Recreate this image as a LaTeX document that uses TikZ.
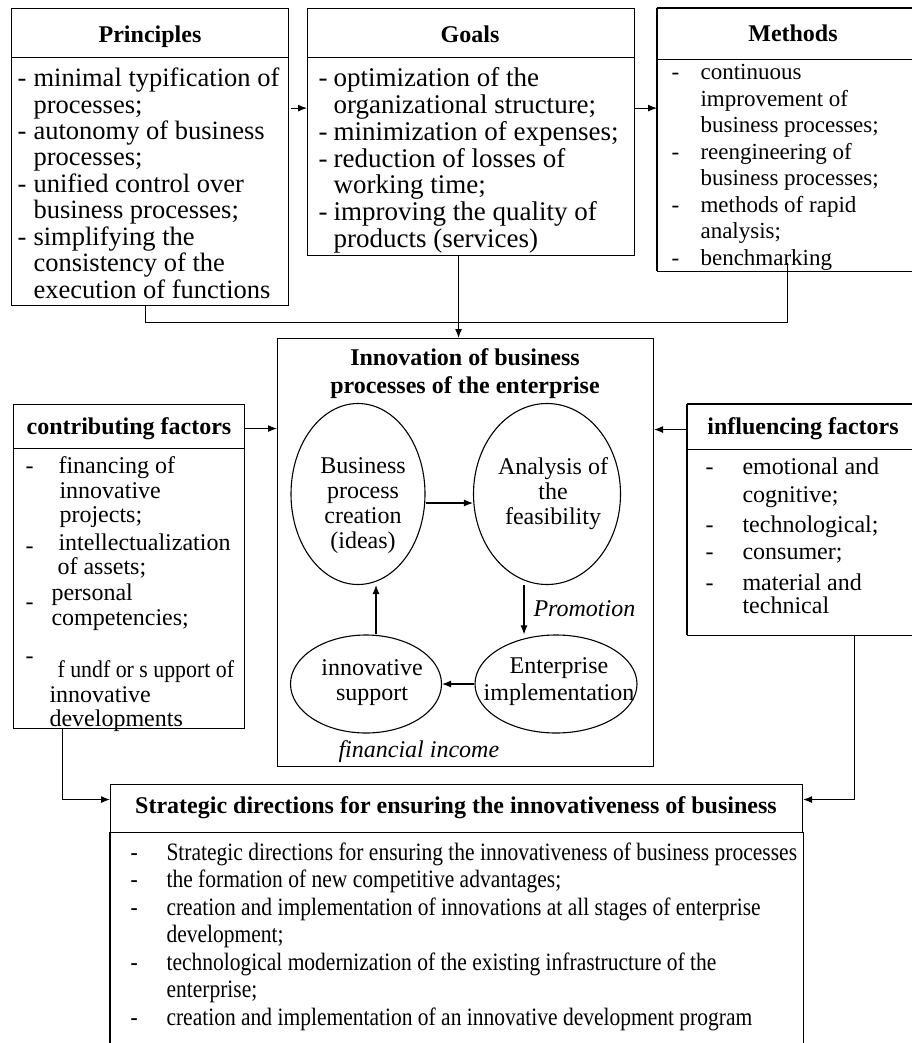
\documentclass[tikz,border=0pt]{standalone}
\usepackage{fontspec}
\setmainfont{Liberation Serif}
\newfontfamily\condfont{Liberation Serif}[FakeStretch=0.86]
\newfontfamily\semicond{Liberation Serif}[FakeStretch=0.91]
\usetikzlibrary{arrows.meta,shapes.geometric}
\newcommand\fsP{\fontsize{26.5}{26.2}\selectfont}
\newcommand\fsG{\fontsize{27}{26.1}\selectfont}
\newcommand\fsM{\fontsize{23}{26.5}\selectfont}
\newcommand\fsC{\fontsize{24}{23}\selectfont}
\newcommand\fsI{\fontsize{24}{20}\selectfont}
\newcommand\fsH{\fontsize{24}{26}\selectfont\bfseries}
\newcommand\fsT{\fontsize{24}{28}\selectfont\bfseries}
\newcommand\fsE{\fontsize{24}{25}\selectfont}
\newcommand\fsS{\condfont\fontsize{25}{27.5}\selectfont}
\newcommand\rdash[1]{\raisebox{#1}[0pt][0pt]{-}}
\begin{document}
\begin{tikzpicture}[x=1pt,y=-1pt,line width=1.1pt,
  frame/.style={draw,inner sep=0pt,anchor=north west},
  area/.style={inner sep=0pt,anchor=north west},
  lst/.style={inner sep=0pt,anchor=base west},
  ttl/.style={inner sep=0pt,anchor=base,font=\fsH},
  ctext/.style={inner sep=0pt,anchor=base,font=\fsE},
  oval/.style={draw,ellipse,inner sep=0pt},
  arr/.style={-{Latex[length=9pt,width=7pt]}}]
\fill[white] (0,0) rectangle (911,1043);
\useasboundingbox (0,0) rectangle (911,1043);

% ---------- Principles ----------
\node[frame,minimum width=277pt,minimum height=49pt] (ph) at (11,8) {};
\node[frame,minimum width=277pt,minimum height=248pt] (pb) at (11,57) {};
\node[ttl] (pt) at (150,43) {Principles};
\node[lst] (pl) at (17,87) {\fsP\begin{tabular}[t]{@{}p{16pt}@{}l@{}}
-&minimal typification of\\
 &processes;\\
-&autonomy of business\\
 &processes;\\
-&unified control over\\
 &business processes;\\
-&simplifying the\\
 &consistency of the\\
 &execution of functions
\end{tabular}};

% ---------- Goals ----------
\node[frame,minimum width=327pt,minimum height=49pt] (gh) at (307,8) {};
\node[frame,minimum width=327pt,minimum height=198pt] (gb) at (307,57) {};
\node[ttl] (gt) at (470,43) {Goals};
\node[lst] (gl) at (318,87) {\fsG\begin{tabular}[t]{@{}p{15pt}@{}l@{}}
-&optimization of the\\
 &organizational structure;\\
-&minimization of expenses;\\
-&reduction of losses of\\
 &working time;\\
-&improving the quality of\\
 &products (services)
\end{tabular}};

% ---------- Methods (open on the right) ----------
\node[area,minimum width=254pt,minimum height=50pt] (mh) at (657,8) {};
\node[area,minimum width=254pt,minimum height=212pt] (mb) at (657,58) {};
\draw (mh.north west) -- (mh.north east);
\draw (mh.north west) -- (mh.south west);
\draw (mh.south west) -- (mh.south east);
\draw (mb.north west) -- (mb.south west);
\draw (mb.south west) -- (mb.south east);
\node[ttl] (mt) at (793,42) {Methods};
\node[lst] (ml) at (671,80) {\fsM\begin{tabular}[t]{@{}p{29pt}@{}l@{}}
-&continuous\\
 &improvement of\\
 &business processes;\\
-&reengineering of\\
 &business processes;\\
-&methods of rapid\\
 &analysis;\\
-&benchmarking
\end{tabular}};

% ---------- Innovation ----------
\node[frame,minimum width=376pt,minimum height=428pt] (inn) at (277,338) {};
\node[inner sep=0pt,anchor=base,font=\fsT] (innt) at (465,365) {\begin{tabular}[t]{@{}c@{}}Innovation of business\\processes of the enterprise\end{tabular}};

\node[oval,minimum width=134pt,minimum height=181pt] (e1) at (358,494) {};
\node[oval,minimum width=147pt,minimum height=181pt] (e2) at (547,494) {};
\node[oval,minimum width=162pt,minimum height=98pt] (e3) at (556,684) {};
\node[oval,minimum width=151pt,minimum height=98pt] (e4) at (366,684) {};
\node[ctext] (e1t) at (363,473) {\begin{tabular}[t]{@{}c@{}}Business\\process\\creation\\(ideas)\end{tabular}};
\node[ctext] (e2t) at (553,474) {\begin{tabular}[t]{@{}c@{}}Analysis of\\the\\feasibility\end{tabular}};
\node[ctext] (e3t) at (559,673) {\begin{tabular}[t]{@{}c@{}}Enterprise\\[2pt]implementation\end{tabular}};
\node[ctext] (e4t) at (372,675) {\begin{tabular}[t]{@{}c@{}}innovative\\support\end{tabular}};
\node[inner sep=0pt,anchor=base west,font=\fsE\itshape] (promo) at (533,616) {Promotion};
\node[inner sep=0pt,anchor=base west,font=\fsE\itshape] (fin) at (338,757) {financial income};

\draw[arr] ([yshift=-9pt]e1.east) -- ([yshift=-9pt]e2.west);
\draw[arr] ([xshift=-23pt]e2.south) -- ([xshift=-32pt]e3.north);
\draw[arr] (e3.west) -- (e4.east);
\draw[arr] ([xshift=10pt]e4.north) -- ([xshift=18pt]e1.south);

% ---------- Contributing factors ----------
\node[frame,minimum width=231pt,minimum height=44pt] (ch) at (13,404) {};
\node[frame,minimum width=231pt,minimum height=280pt] (cb) at (13,448) {};
\node[ttl] (ct) at (129,434) {contributing factors};
\node[lst] (cl) at (25,473) {\fsC\begin{tabular}[t]{@{}p{33pt}@{}l@{}}
\rdash{0pt}&financing of\\[2pt]
 &\hspace*{1pt}innovative\\[1pt]
 &\hspace*{1pt}projects;\\[5pt]
\rdash{-3pt}&intellectualization\\
 &\hspace*{-1pt}of assets;\\[3pt]
\rdash{-9pt}&\hspace*{-7pt}personal\\[2pt]
 &\hspace*{-7pt}competencies;\\[28pt]
\rdash{14pt}&\hspace*{-1pt}{\semicond f undf or s upport of}\\[2pt]
 &\hspace*{-9pt}innovative\\
 &\hspace*{-9pt}developments
\end{tabular}};

% ---------- Influencing factors (open on the right) ----------
\node[area,minimum width=224pt,minimum height=44pt] (ih) at (687,404) {};
\node[area,minimum width=224pt,minimum height=186pt] (ib) at (687,448) {};
\draw (ih.north west) -- (ih.north east);
\draw (ih.north west) -- (ih.south west);
\draw (ih.south west) -- (ih.south east);
\draw (ib.north west) -- (ib.south west);
\draw (ib.south west) -- (ib.south east);
\node[ttl] (itl) at (803,434) {influencing factors};
\node[lst] (il) at (705,474) {\fsI\begin{tabular}[t]{@{}p{37pt}@{}l@{}}
-&emotional and\\[7pt]
 &cognitive;\\[7pt]
-&technological;\\[7pt]
-&consumer;\\[8pt]
-&material and\\[1pt]
 &technical
\end{tabular}};

% ---------- Strategic directions ----------
\node[frame,minimum width=692pt,minimum height=48pt] (sh) at (110,784) {};
\node[area,minimum width=692pt,minimum height=211pt] (sb) at (110,832) {};
\draw (sb.north west) -- (sb.south west);
\draw (sb.north east) -- (sb.south east);
\node[ttl] (st) at (456,813) {Strategic directions for ensuring the innovativeness of business};
\node[lst] (sl) at (130,860) {\fsS\begin{tabular}[t]{@{}p{36pt}@{}l@{}}
-&Strategic directions for ensuring the innovativeness of business processes\\
-&the formation of new competitive advantages;\\
-&creation and implementation of innovations at all stages of enterprise\\
 &development;\\
-&technological modernization of the existing infrastructure of the\\
 &enterprise;\\
-&creation and implementation of an innovative development program
\end{tabular}};

% ---------- Connectors ----------
\coordinate (p1) at ([yshift=-50pt]ph.south east);
\draw[arr] ([xshift=2pt]p1) -- (p1 -| gb.west);
\coordinate (g1) at ([yshift=-50pt]gh.south east);
\draw[arr] (g1) -- (g1 -| mb.west);
\draw ([xshift=-4.5pt]pb.south) -- ++(0,16) -| ([xshift=3pt,yshift=8pt]mb.south);
\draw[arr] ([xshift=-12.5pt]gb.south) -- ([xshift=-7pt]inn.north);
\coordinate (c1) at ([yshift=-2pt]ch.east);
\draw[arr] (c1) -- (c1 -| inn.west);
\coordinate (c2) at ([yshift=-3pt]ih.west);
\draw[arr] (c2) -- (c2 -| inn.east);
\coordinate (c3) at ([xshift=-66.5pt]cb.south);
\draw[arr] (c3) |- ([yshift=9pt]sh.west);
\coordinate (c4) at ([xshift=55pt]ib.south);
\draw[arr] (c4) |- ([yshift=9pt]sh.east);
\end{tikzpicture}
\end{document}
